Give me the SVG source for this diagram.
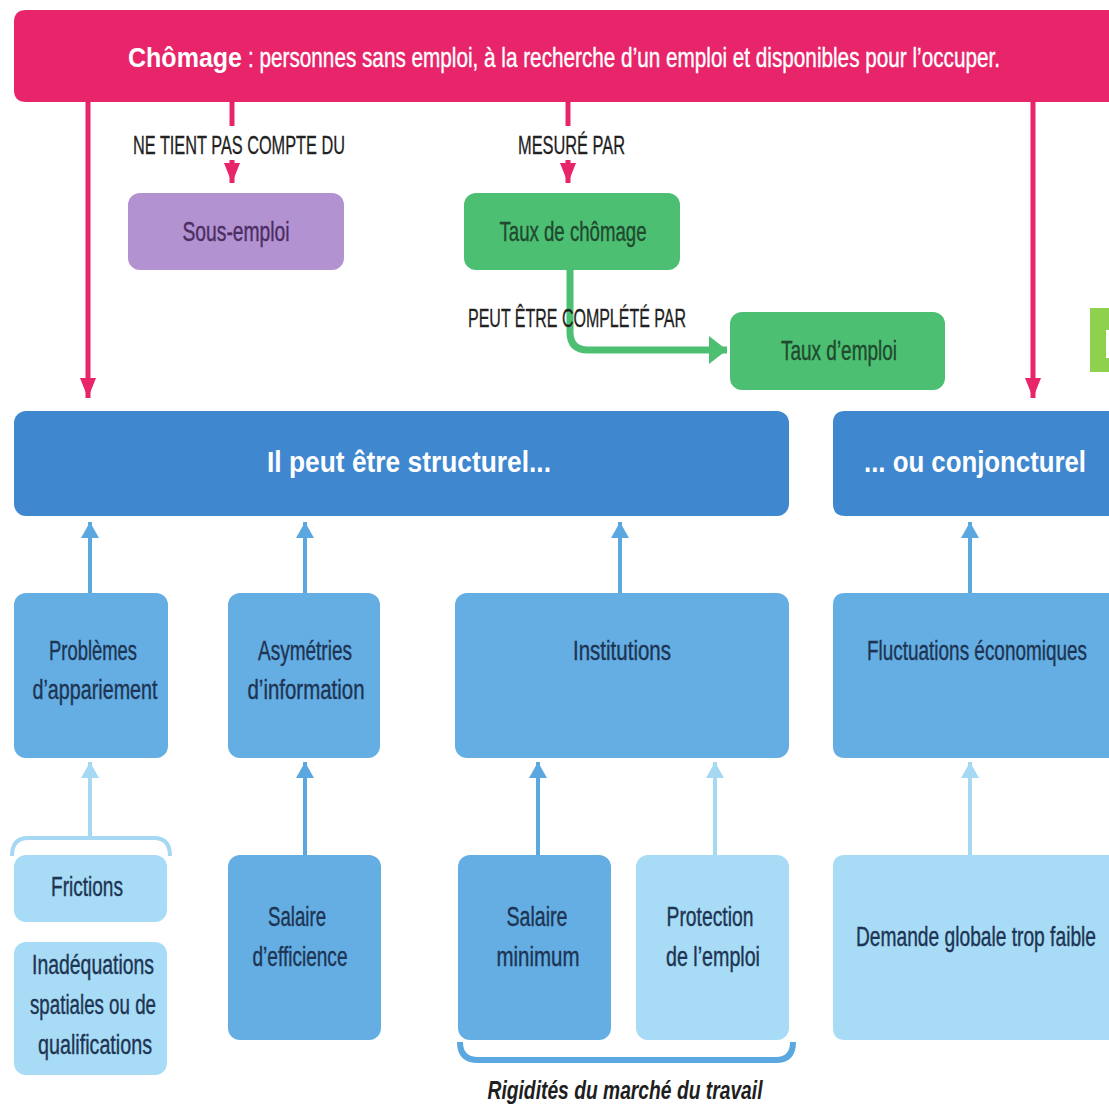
<svg xmlns="http://www.w3.org/2000/svg" width="1109" height="1108" viewBox="0 0 1109 1108">
<style>
text{font-family:"Liberation Sans","DejaVu Sans",sans-serif;}
.lbl{font-size:26px;fill:#222;stroke:#222;stroke-width:0.3;}
.bx{font-size:27px;fill:#1D3553;text-anchor:middle;stroke:#1D3553;stroke-width:0.4;}
.hd{font-size:30px;font-weight:bold;fill:#fff;text-anchor:middle;}
.pk{stroke:#E8246A;stroke-width:5;fill:none;}
.bl{stroke:#5AA8DF;stroke-width:4;fill:none;}
.lb{stroke:#A6D8F3;stroke-width:4;fill:none;}
.mid{fill:#65AEE4;}
.lig{fill:#A8DBF6;}
.hdr{fill:#3F87CF;}
</style>
<defs>
<marker id="ap" markerUnits="userSpaceOnUse" markerWidth="22" markerHeight="16" refX="20" refY="8" orient="auto"><path d="M0,0 L20,8 L0,16 Z" fill="#E8246A"/></marker>
<marker id="ab" markerUnits="userSpaceOnUse" markerWidth="20" markerHeight="18" refX="16" refY="9" orient="auto"><path d="M0,0 L16,9 L0,18 Z" fill="#5AA8DF"/></marker>
<marker id="al" markerUnits="userSpaceOnUse" markerWidth="20" markerHeight="18" refX="16" refY="9" orient="auto"><path d="M0,0 L16,9 L0,18 Z" fill="#A6D8F3"/></marker>
<marker id="ag" markerUnits="userSpaceOnUse" markerWidth="20" markerHeight="28" refX="18" refY="14" orient="auto"><path d="M0,0 L18,14 L0,28 Z" fill="#4DBF73"/></marker>
</defs>
<rect width="1109" height="1108" fill="#fff"/>

<g id="connectors">
<path class="pk" d="M88,100 V398" marker-end="url(#ap)"/>
<path class="pk" d="M232,100 V126"/>
<path class="pk" d="M232,160 V183" marker-end="url(#ap)"/>
<path class="pk" d="M568,100 V126"/>
<path class="pk" d="M568,160 V183" marker-end="url(#ap)"/>
<path class="pk" d="M1033,100 V398" marker-end="url(#ap)"/>
<path d="M570,268 V332 Q570,350 588,350 H727" stroke="#4DBF73" stroke-width="7" fill="none" marker-end="url(#ag)"/>
<path class="bl" d="M90,593 V522" marker-end="url(#ab)"/>
<path class="bl" d="M305,593 V522" marker-end="url(#ab)"/>
<path class="bl" d="M620,593 V522" marker-end="url(#ab)"/>
<path class="bl" d="M970,593 V522" marker-end="url(#ab)"/>
<path class="lb" d="M90,838 V762" marker-end="url(#al)"/>
<path class="bl" d="M305,855 V762" marker-end="url(#ab)"/>
<path class="bl" d="M538,855 V762" marker-end="url(#ab)"/>
<path class="lb" d="M715,855 V762" marker-end="url(#al)"/>
<path class="lb" d="M970,855 V762" marker-end="url(#al)"/>
<path d="M12,856 Q12,838 28,838 H154 Q170,838 170,856" stroke="#A6D8F3" stroke-width="4" fill="none"/>
<path d="M460,1042 Q460,1060 478,1060 H776 Q793,1060 793,1042" stroke="#5AA8DF" stroke-width="6" fill="none"/>
</g>

<g id="chomage">
<path d="M26,10 H1109 V102 H26 Q14,102 14,90 V22 Q14,10 26,10 Z" fill="#E8246A"/>
<text x="128" y="67" font-size="28" font-weight="bold" fill="#fff" textLength="114" lengthAdjust="spacingAndGlyphs">Chômage</text>
<text x="248" y="67" font-size="28" fill="#fff" stroke="#fff" stroke-width="0.4" textLength="752" lengthAdjust="spacingAndGlyphs">: personnes sans emploi, à la recherche d’un emploi et disponibles pour l’occuper.</text>
</g>

<g id="label-ne-tient">
<text class="lbl" x="133" y="154" textLength="212" lengthAdjust="spacingAndGlyphs">NE TIENT PAS COMPTE DU</text>
</g>
<g id="label-mesure">
<text class="lbl" x="518" y="154" textLength="107" lengthAdjust="spacingAndGlyphs">MESURÉ PAR</text>
</g>
<g id="sous-emploi">
<rect x="128" y="193" width="216" height="77" rx="12" fill="#B392D2"/>
<text x="236" y="241" font-size="28" fill="#4B2E63" stroke="#4B2E63" stroke-width="0.4" text-anchor="middle" textLength="107" lengthAdjust="spacingAndGlyphs">Sous-emploi</text>
</g>
<g id="taux-chomage">
<rect x="464" y="193" width="216" height="77" rx="12" fill="#4DBF73"/>
<text x="573" y="241" font-size="28" fill="#1F4A2E" stroke="#1F4A2E" stroke-width="0.4" text-anchor="middle" textLength="147" lengthAdjust="spacingAndGlyphs">Taux de chômage</text>
</g>
<g id="label-peut-etre">
<text class="lbl" x="468" y="327" textLength="218" lengthAdjust="spacingAndGlyphs">PEUT ÊTRE COMPLÉTÉ PAR</text>
</g>
<g id="taux-emploi">
<rect x="730" y="312" width="215" height="78" rx="12" fill="#4DBF73"/>
<text x="839" y="360" font-size="28" fill="#1F4A2E" stroke="#1F4A2E" stroke-width="0.4" text-anchor="middle" textLength="116" lengthAdjust="spacingAndGlyphs">Taux d’emploi</text>
</g>
<g id="edge-box">
<rect x="1090" y="308" width="19" height="64" fill="#8ED14F"/>
<rect x="1106" y="330" width="3" height="28" fill="#fff"/>
</g>

<g id="structurel">
<rect class="hdr" x="14" y="411" width="775" height="105" rx="12"/>
<text class="hd" x="409" y="472" textLength="284" lengthAdjust="spacingAndGlyphs">Il peut être structurel...</text>
</g>
<g id="conjoncturel">
<path class="hdr" d="M845,411 H1109 V516 H845 Q833,516 833,504 V423 Q833,411 845,411 Z"/>
<text class="hd" x="975" y="472" textLength="222" lengthAdjust="spacingAndGlyphs">... ou conjoncturel</text>
</g>

<g id="appariement">
<rect class="mid" x="14" y="593" width="154" height="165" rx="12"/>
<text class="bx" x="93" y="660" textLength="88" lengthAdjust="spacingAndGlyphs">Problèmes</text>
<text class="bx" x="95" y="699" textLength="125" lengthAdjust="spacingAndGlyphs">d’appariement</text>
</g>
<g id="asymetries">
<rect class="mid" x="228" y="593" width="152" height="165" rx="12"/>
<text class="bx" x="305" y="660" textLength="94" lengthAdjust="spacingAndGlyphs">Asymétries</text>
<text class="bx" x="306" y="699" textLength="117" lengthAdjust="spacingAndGlyphs">d’information</text>
</g>
<g id="institutions">
<rect class="mid" x="455" y="593" width="334" height="165" rx="12"/>
<text class="bx" x="622" y="660" textLength="98" lengthAdjust="spacingAndGlyphs">Institutions</text>
</g>
<g id="fluctuations">
<path class="mid" d="M845,593 H1109 V758 H845 Q833,758 833,746 V605 Q833,593 845,593 Z"/>
<text class="bx" x="977" y="660" textLength="220" lengthAdjust="spacingAndGlyphs">Fluctuations économiques</text>
</g>

<g id="frictions">
<rect class="lig" x="14" y="855" width="153" height="67" rx="12"/>
<text class="bx" x="87" y="896" textLength="72" lengthAdjust="spacingAndGlyphs">Frictions</text>
</g>
<g id="inadequations">
<rect class="lig" x="14" y="942" width="153" height="133" rx="12"/>
<text class="bx" x="93" y="974" textLength="122" lengthAdjust="spacingAndGlyphs">Inadéquations</text>
<text class="bx" x="93" y="1014" textLength="126" lengthAdjust="spacingAndGlyphs">spatiales ou de</text>
<text class="bx" x="95" y="1054" textLength="114" lengthAdjust="spacingAndGlyphs">qualifications</text>
</g>
<g id="salaire-efficience">
<rect class="mid" x="228" y="855" width="153" height="185" rx="12"/>
<text class="bx" x="297" y="926" textLength="58" lengthAdjust="spacingAndGlyphs">Salaire</text>
<text class="bx" x="300" y="966" textLength="95" lengthAdjust="spacingAndGlyphs">d’efficience</text>
</g>
<g id="salaire-minimum">
<rect class="mid" x="458" y="855" width="153" height="185" rx="12"/>
<text class="bx" x="537" y="926" textLength="61" lengthAdjust="spacingAndGlyphs">Salaire</text>
<text class="bx" x="538" y="966" textLength="83" lengthAdjust="spacingAndGlyphs">minimum</text>
</g>
<g id="protection">
<rect class="lig" x="636" y="855" width="153" height="185" rx="12"/>
<text class="bx" x="710" y="926" textLength="87" lengthAdjust="spacingAndGlyphs">Protection</text>
<text class="bx" x="713" y="966" textLength="94" lengthAdjust="spacingAndGlyphs">de l’emploi</text>
</g>
<g id="demande">
<path class="lig" d="M845,855 H1109 V1040 H845 Q833,1040 833,1028 V867 Q833,855 845,855 Z"/>
<text class="bx" x="976" y="946" textLength="240" lengthAdjust="spacingAndGlyphs">Demande globale trop faible</text>
</g>
<g id="rigidites">
<text x="625" y="1099" font-size="26" font-weight="bold" font-style="italic" fill="#1E1E1E" text-anchor="middle" textLength="275" lengthAdjust="spacingAndGlyphs">Rigidités du marché du travail</text>
</g>
</svg>
